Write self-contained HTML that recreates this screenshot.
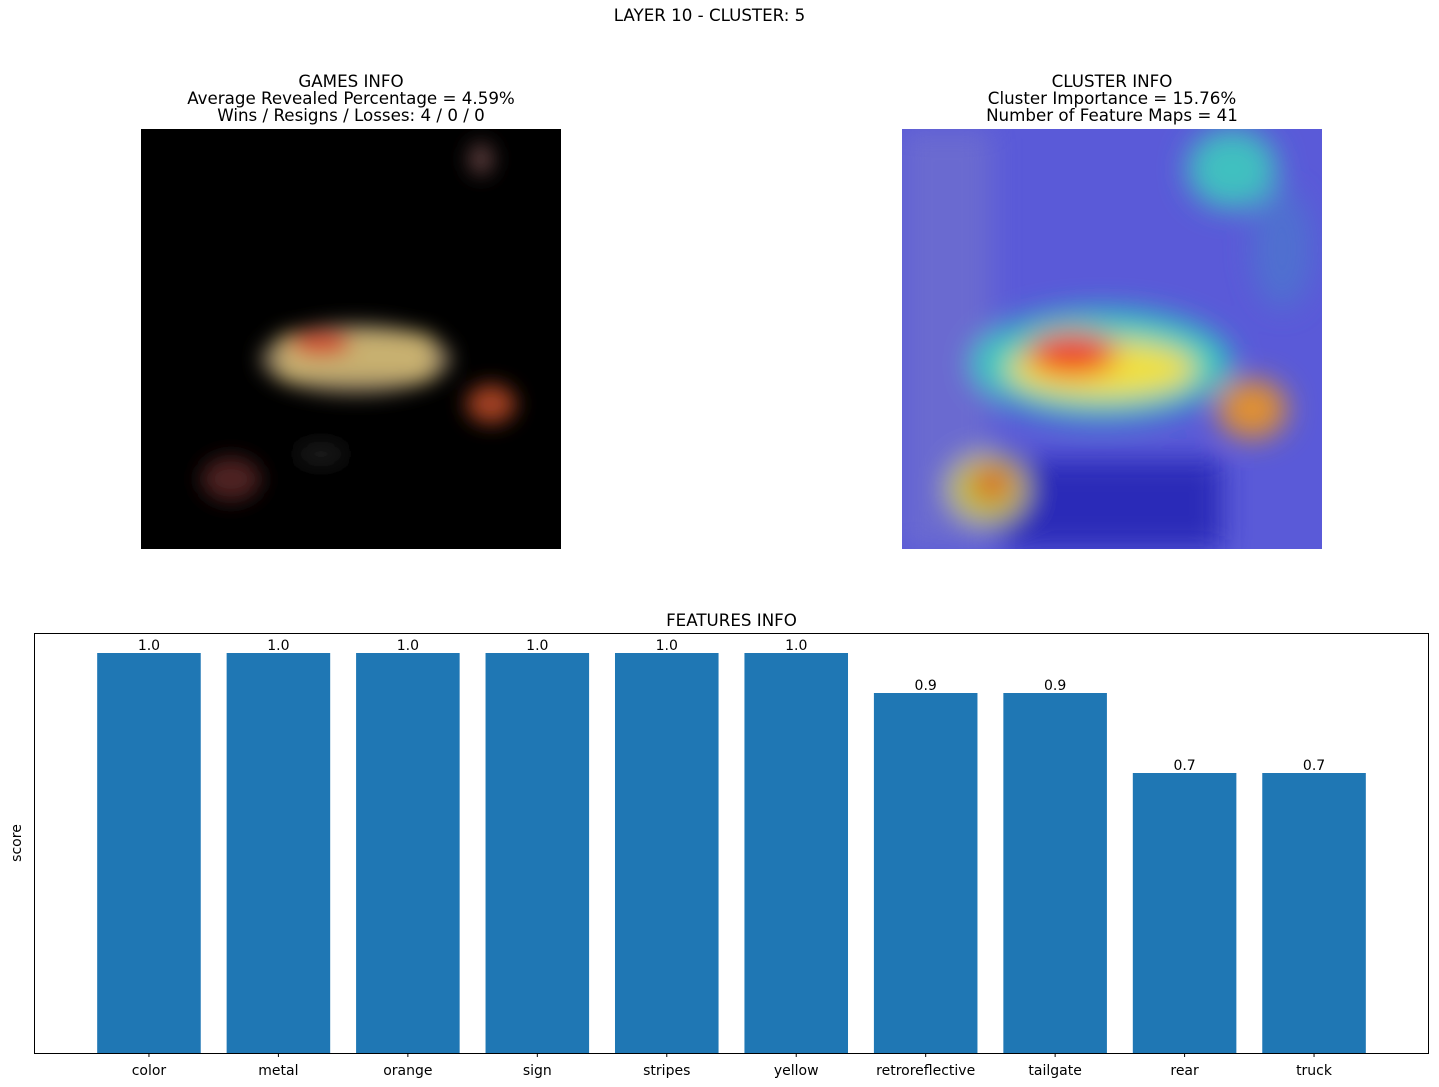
<!DOCTYPE html>
<html><head><meta charset="utf-8"><style>
body{margin:0;background:#fff;font-family:"DejaVu Sans","Liberation Sans",sans-serif;}
#wrap{position:relative;width:1439px;height:1087px;overflow:hidden;background:#fff;}
.t{position:absolute;text-align:center;font-size:16.7px;color:#000;line-height:17px;}
</style></head><body>
<div id="wrap">
<div class="t" style="left:-10px;width:1439px;top:7px;">LAYER 10 - CLUSTER: 5</div>
<div class="t" style="left:51px;width:600px;top:73px;">GAMES INFO<br>Average Revealed Percentage = 4.59%<br>Wins / Resigns / Losses: 4 / 0 / 0</div>
<div class="t" style="left:812px;width:600px;top:73px;">CLUSTER INFO<br>Cluster Importance = 15.76%<br>Number of Feature Maps = 41</div>
<svg style="position:absolute;left:141px;top:129px" width="420" height="420">
<defs><filter id="b1"><feGaussianBlur stdDeviation="10"/></filter></defs>
<rect width="420" height="420" fill="#000"/>
<g filter="url(#b1)">
<ellipse cx="215" cy="230" rx="95" ry="35" fill="#8a7a60"/>
<rect x="140" y="205" width="150" height="45" fill="#c8b070"/>
<ellipse cx="180" cy="215" rx="30" ry="12" fill="#d05030"/>
<ellipse cx="350" cy="275" rx="25" ry="20" fill="#a04020"/>
<ellipse cx="90" cy="350" rx="30" ry="22" fill="#502020"/>
<ellipse cx="340" cy="30" rx="12" ry="16" fill="#604040"/>
<ellipse cx="180" cy="325" rx="25" ry="10" fill="#202020"/>
</g></svg>
<svg style="position:absolute;left:902px;top:129px" width="420" height="420">
<defs><filter id="b2"><feGaussianBlur stdDeviation="14"/></filter></defs>
<rect width="420" height="420" fill="#5a5ad8"/>
<g filter="url(#b2)">
<rect x="0" y="0" width="90" height="420" fill="#6a6ad0"/>
<rect x="100" y="330" width="220" height="90" fill="#2a2ab8"/>
<ellipse cx="330" cy="40" rx="45" ry="40" fill="#40c0c0"/>
<ellipse cx="200" cy="235" rx="130" ry="55" fill="#30c8c0"/>
<ellipse cx="200" cy="240" rx="95" ry="30" fill="#f0e040"/>
<ellipse cx="170" cy="225" rx="45" ry="22" fill="#f04020"/>
<ellipse cx="85" cy="360" rx="40" ry="35" fill="#c0c040"/>
<ellipse cx="90" cy="355" rx="18" ry="15" fill="#e03020"/>
<ellipse cx="350" cy="280" rx="35" ry="30" fill="#e09030"/>
<ellipse cx="380" cy="120" rx="30" ry="60" fill="#5070d0"/>
</g></svg>
<div class="t" style="left:34px;width:1395px;top:612px;">FEATURES INFO</div>
<svg id="chart" style="position:absolute;left:0;top:0" width="1439" height="1087"></svg>
</div>
<script>
const categories=["color","metal","orange","sign","stripes","yellow","retroreflective","tailgate","rear","truck"];
const scores=[1.0,1.0,1.0,1.0,1.0,1.0,0.9,0.9,0.7,0.7];
const valueLabels=["1.0","1.0","1.0","1.0","1.0","1.0","0.9","0.9","0.7","0.7"];
const L=34,R=1429,T=633,B=1053;
const xmin=-0.888,xmax=categories.length-1+0.888,ymax=1.05;
const xs=i=>L+(i-xmin)/(xmax-xmin)*(R-L);
const ys=v=>B-v/ymax*(B-T);
const unit=(R-L)/(xmax-xmin);
const svg=document.getElementById('chart');
const NS='http://www.w3.org/2000/svg';
const FF='DejaVu Sans, Liberation Sans, sans-serif';
function mk(tag,attrs){const e=document.createElementNS(NS,tag);for(const k in attrs)e.setAttribute(k,attrs[k]);svg.appendChild(e);return e;}
categories.forEach((c,i)=>{
 const w=0.8*unit;
 const r=mk('rect',{x:xs(i)-w/2,y:ys(scores[i]),width:w,height:B-ys(scores[i]),fill:'#1f77b4'});
 
 
 const v=mk('text',{x:xs(i),y:ys(scores[i])-3,'text-anchor':'middle','font-size':'14','font-family':FF});
 v.textContent=valueLabels[i];
 
 
 const tk=mk('line',{x1:xs(i),x2:xs(i),y1:B,y2:B+4,stroke:'#000','stroke-width':1});
 
 
 const tl=mk('text',{x:xs(i),y:B+22,'text-anchor':'middle','font-size':'14','font-family':FF});
 tl.textContent=c;
 
 
});
const fr=mk('rect',{x:L+0.5,y:T+0.5,width:R-L-1,height:B-T,fill:'none',stroke:'#000','stroke-width':1});


const yl=mk('text',{x:0,y:0,'text-anchor':'middle','font-size':'14','font-family':FF,transform:'translate(21,843) rotate(-90)'});
yl.textContent='score';


</script>
</body></html>
